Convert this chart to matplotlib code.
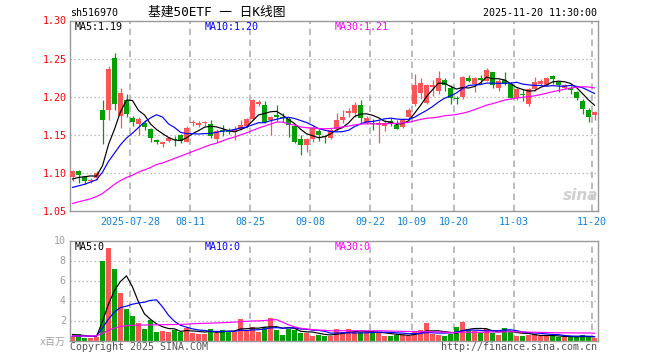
import numpy as np
import matplotlib
matplotlib.use('Agg')
import matplotlib.pyplot as plt
import pandas as pd

plt.rcParams['font.family'] = ['DejaVu Sans Mono', 'Noto Sans CJK SC']

symbol = 'sh516970'
title = '基建50ETF 一 日K线图'
timestamp = '2025-11-20 11:30:00'

opens = [1.094, 1.103, 1.094, 1.089, 1.093, 1.182, 1.182, 1.251, 1.175, 1.196,
         1.172, 1.164, 1.165, 1.158, 1.143, 1.138, 1.142, 1.145, 1.150, 1.141,
         1.165, 1.163, 1.165, 1.164, 1.144, 1.156, 1.156, 1.155, 1.157, 1.161,
         1.171, 1.191, 1.189, 1.169, 1.175, 1.173, 1.171, 1.161, 1.144, 1.136,
         1.145, 1.155, 1.149, 1.146, 1.157, 1.169, 1.179, 1.178, 1.189, 1.166,
         1.166, 1.163, 1.162, 1.168, 1.163, 1.160, 1.174, 1.190, 1.205, 1.192,
         1.213, 1.208, 1.222, 1.212, 1.198, 1.199, 1.225, 1.217, 1.225, 1.221,
         1.232, 1.212, 1.222, 1.217, 1.198, 1.204, 1.191, 1.210, 1.217, 1.215,
         1.227, 1.219, 1.212, 1.212, 1.206, 1.195, 1.182, 1.176]
closes = [1.102, 1.097, 1.089, 1.091, 1.100, 1.170, 1.236, 1.190, 1.205, 1.177,
          1.167, 1.171, 1.160, 1.146, 1.141, 1.140, 1.146, 1.143, 1.142, 1.159,
          1.167, 1.166, 1.166, 1.148, 1.155, 1.155, 1.154, 1.157, 1.163, 1.171,
          1.196, 1.193, 1.167, 1.174, 1.174, 1.172, 1.163, 1.141, 1.137, 1.144,
          1.159, 1.150, 1.147, 1.156, 1.170, 1.174, 1.181, 1.189, 1.172, 1.172,
          1.164, 1.165, 1.166, 1.166, 1.158, 1.169, 1.182, 1.216, 1.218, 1.215,
          1.215, 1.225, 1.215, 1.198, 1.197, 1.226, 1.221, 1.225, 1.222, 1.235,
          1.215, 1.221, 1.217, 1.198, 1.210, 1.202, 1.210, 1.219, 1.220, 1.225,
          1.223, 1.215, 1.215, 1.209, 1.198, 1.184, 1.173, 1.180]
highs = [1.104, 1.104, 1.096, 1.093, 1.102, 1.196, 1.240, 1.257, 1.212, 1.203,
         1.175, 1.173, 1.170, 1.159, 1.145, 1.141, 1.147, 1.149, 1.151, 1.162,
         1.169, 1.168, 1.168, 1.169, 1.157, 1.163, 1.159, 1.161, 1.170, 1.172,
         1.197, 1.196, 1.194, 1.175, 1.189, 1.179, 1.174, 1.163, 1.150, 1.146,
         1.161, 1.157, 1.150, 1.159, 1.179, 1.183, 1.185, 1.193, 1.196, 1.175,
         1.171, 1.169, 1.170, 1.172, 1.169, 1.172, 1.185, 1.230, 1.225, 1.217,
         1.222, 1.234, 1.224, 1.216, 1.201, 1.227, 1.229, 1.226, 1.228, 1.238,
         1.233, 1.223, 1.232, 1.219, 1.212, 1.210, 1.212, 1.226, 1.223, 1.226,
         1.228, 1.221, 1.217, 1.214, 1.208, 1.197, 1.185, 1.181]
lows = [1.090, 1.087, 1.085, 1.087, 1.091, 1.138, 1.170, 1.183, 1.159, 1.173,
        1.161, 1.150, 1.156, 1.140, 1.138, 1.134, 1.141, 1.135, 1.139, 1.140,
        1.161, 1.160, 1.162, 1.146, 1.141, 1.149, 1.151, 1.143, 1.156, 1.159,
        1.170, 1.188, 1.166, 1.150, 1.168, 1.167, 1.147, 1.139, 1.124, 1.127,
        1.141, 1.142, 1.139, 1.145, 1.155, 1.166, 1.174, 1.174, 1.166, 1.164,
        1.156, 1.139, 1.155, 1.162, 1.157, 1.159, 1.171, 1.188, 1.197, 1.190,
        1.201, 1.204, 1.207, 1.190, 1.190, 1.197, 1.219, 1.206, 1.217, 1.220,
        1.212, 1.208, 1.215, 1.197, 1.196, 1.195, 1.188, 1.208, 1.215, 1.214,
        1.217, 1.206, 1.210, 1.204, 1.196, 1.177, 1.167, 1.170]
volumes = [0.43, 0.63, 0.30, 0.30, 0.37, 7.97, 9.27, 7.17, 4.77, 3.13,
           2.43, 1.77, 1.17, 2.10, 0.87, 0.97, 0.87, 1.03, 0.83, 1.27,
           0.77, 0.67, 0.67, 1.17, 0.80, 1.07, 0.93, 0.83, 2.13, 0.93,
           1.37, 0.90, 1.33, 2.27, 1.07, 0.57, 1.17, 1.03, 0.80, 0.77,
           0.47, 0.57, 0.47, 0.50, 1.13, 0.83, 1.13, 0.83, 0.83, 0.90,
           0.83, 0.80, 0.50, 0.43, 0.57, 0.57, 0.50, 0.93, 1.03, 1.73,
           0.63, 0.53, 0.50, 0.70, 1.33, 1.83, 1.20, 0.93, 0.73, 1.20,
           0.80, 0.60, 1.23, 0.87, 0.50, 0.43, 0.53, 0.63, 0.43, 0.47,
           0.43, 0.33, 0.37, 0.37, 0.33, 0.53, 0.37, 0.27]

# moving-average values read at the left edge (their history lies before the window)
ma5_head = [1.092, 1.094, 1.095, 1.096]
ma10_head = [1.081, 1.083, 1.085, 1.088, 1.091, 1.101, 1.115, 1.126, 1.137]
ma30_head = [1.060, 1.062, 1.064, 1.066, 1.069, 1.073, 1.079, 1.085, 1.090, 1.094,
             1.097, 1.101, 1.104, 1.107, 1.111, 1.113, 1.116, 1.119, 1.122, 1.125,
             1.128, 1.131, 1.134, 1.137, 1.139, 1.142, 1.145, 1.147, 1.150]
vma5_head = [0.60, 0.55, 0.50, 0.42]
vma10_head = [0.45, 0.45, 0.45, 0.43, 0.45, 1.25, 2.15, 2.85, 3.30]
vma30_head = [0.45, 0.45, 0.45, 0.45, 0.46, 0.72, 1.02, 1.25, 1.40, 1.48,
              1.53, 1.54, 1.55, 1.56, 1.57, 1.58, 1.59, 1.60, 1.61, 1.63,
              1.68, 1.70, 1.72, 1.74, 1.76, 1.78, 1.81, 1.84, 1.87]

date_idx = [10, 20, 30, 40, 50, 57, 64, 74, 87]
date_lbl = ['2025-07-28', '08-11', '08-25', '09-08', '09-22', '10-09', '10-20', '11-03', '11-20']
price_ticks = [1.05, 1.10, 1.15, 1.20, 1.25, 1.30]
vol_ticks = [0, 2, 4, 6, 8, 10]
vol_tick_lbl = ['x百万', '2', '4', '6', '8', '10']

RED = '#fc5555'
GREEN = '#00a000'
GRID = '#aaaaaa'


def moving_average(vals, n, head):
    s = pd.Series(vals, dtype=float).rolling(n).mean().to_numpy()
    s[:n - 1] = head
    return s


n = len(closes)
x = np.arange(n)
o = np.array(opens); c = np.array(closes); h = np.array(highs); l = np.array(lows)
v = np.array(volumes)
colors = [RED if c[i] >= o[i] else GREEN for i in range(n)]

ma5 = moving_average(closes, 5, ma5_head)
ma10 = moving_average(closes, 10, ma10_head)
ma30 = moving_average(closes, 30, ma30_head)
vma5 = moving_average(volumes, 5, vma5_head)
vma10 = moving_average(volumes, 10, vma10_head)
vma30 = moving_average(volumes, 30, vma30_head)

W, H = 660, 360
fig = plt.figure(figsize=(W / 100, H / 100), dpi=100)
fig.patch.set_facecolor('white')


def rect(x0, y0, x1, y1):
    return [x0 / W, (H - y1) / H, (x1 - x0) / W, (y1 - y0) / H]


def px(xp, yp):
    return xp / W, 1 - yp / H


off = 2.5 / 6.0
xlim = (-off, (598 - 72.5) / 6.0)
grid_x = [i - off for i in date_idx]

ax = fig.add_axes(rect(70, 20.5, 598, 211))
ax.set_xlim(*xlim)
ax.set_ylim(1.05, 1.30)
for gy in price_ticks[1:-1]:
    ax.axhline(gy, color=GRID, lw=0.9, ls=(0, (1, 2.2)), zorder=0)
for gx in grid_x:
    ax.axvline(gx, color=GRID, lw=1.1, ls=(0, (4.2, 3.0)), zorder=0)

ax.vlines(x, l, h, colors=colors, lw=0.9, zorder=2)
body_b = np.minimum(o, c)
body_h = np.maximum(np.abs(c - o), 0.0014)
ax.bar(x, body_h, bottom=body_b, width=0.84, color=colors, linewidth=0, zorder=3)

ax.plot(x, ma5, color='black', lw=0.85, zorder=4)
ax.plot(x, ma10, color='#0000ff', lw=0.85, zorder=4)
ax.plot(x, ma30, color='#ff00ff', lw=0.85, zorder=4)

ax.set_yticks(price_ticks)
ax.set_yticklabels(['%.2f' % t for t in price_ticks], color='#ff0000', fontsize=7.2)
ax.set_xticks(grid_x)
ax.set_xticklabels(date_lbl, color='#1082d8', fontsize=7.2)
ax.tick_params(axis='both', length=0)
ax.tick_params(axis='y', pad=2.2)
ax.tick_params(axis='x', pad=4.5)
for sp in ax.spines.values():
    sp.set_color('#999999'); sp.set_linewidth(1.0)

ax.text(5 / 528, 1 - 6 / 190.5, 'MA5:%.2f' % ma5[-1], transform=ax.transAxes,
        color='black', fontsize=7.2, va='center', ha='left')
ax.text(135 / 528, 1 - 6 / 190.5, 'MA10:%.2f' % ma10[-1], transform=ax.transAxes,
        color='#0000ff', fontsize=7.2, va='center', ha='left')
ax.text(265 / 528, 1 - 6 / 190.5, 'MA30:%.2f' % ma30[-1], transform=ax.transAxes,
        color='#ff00ff', fontsize=7.2, va='center', ha='left')

# volume panel
axv = fig.add_axes(rect(70, 240.5, 598, 340.5))
axv.set_xlim(*xlim)
axv.set_ylim(0, 10)
for gy in vol_ticks[1:-1]:
    axv.axhline(gy, color=GRID, lw=0.9, ls=(0, (1, 2.2)), zorder=0)
for gx in grid_x:
    axv.axvline(gx, color=GRID, lw=1.1, ls=(0, (4.2, 3.0)), zorder=0)
axv.bar(x, v, width=0.84, color=colors, linewidth=0, zorder=2)
axv.plot(x, vma5, color='black', lw=0.85, zorder=4)
axv.plot(x, vma10, color='#0000ff', lw=0.85, zorder=4)
axv.plot(x, vma30, color='#ff00ff', lw=0.85, zorder=4)
axv.set_yticks(vol_ticks)
axv.set_yticklabels(vol_tick_lbl, color='#a0a0a0', fontsize=7.2)
axv.set_xticks([])
axv.tick_params(axis='both', length=0)
axv.tick_params(axis='y', pad=3)
for sp in axv.spines.values():
    sp.set_color('#999999'); sp.set_linewidth(1.0)
axv.text(5 / 528, 1 - 6 / 100, 'MA5:0', transform=axv.transAxes,
         color='black', fontsize=7.2, va='center', ha='left')
axv.text(135 / 528, 1 - 6 / 100, 'MA10:0', transform=axv.transAxes,
         color='#0000ff', fontsize=7.2, va='center', ha='left')
axv.text(265 / 528, 1 - 6 / 100, 'MA30:0', transform=axv.transAxes,
         color='#ff00ff', fontsize=7.2, va='center', ha='left')

# header and footer texts
fig.text(*px(70, 13.5), symbol, fontsize=7.2, color='black', va='center', ha='left')
fig.text(*px(217, 12.5), title, fontsize=9.2, color='black', va='center', ha='center')
fig.text(*px(597, 13), timestamp, fontsize=7.2, color='black', va='center', ha='right')
fig.text(*px(70, 346.5), 'Copyright 2025 SINA.COM', fontsize=7.2, color='#555555',
         va='center', ha='left')
fig.text(*px(597, 346.5), 'http://finance.sina.com.cn', fontsize=7.2, color='#555555',
         va='center', ha='right')
fig.text(*px(581, 195), 'sina', fontsize=11, color='#cfcfcf', style='italic',
         weight='bold', family='DejaVu Sans', va='center', ha='center')

fig.savefig('out.png', dpi=100, facecolor='white')
